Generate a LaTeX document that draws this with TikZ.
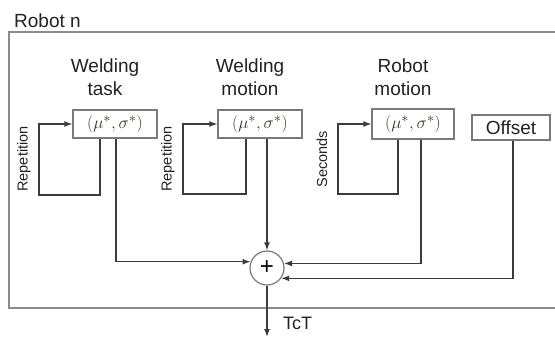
\documentclass[tikz,border=0pt]{standalone}
\usepackage{fontspec}
\setmainfont{Liberation Sans}
\usetikzlibrary{arrows.meta}
\definecolor{boxgray}{HTML}{7A7A7A}
\definecolor{framegray}{HTML}{8C8C8C}
\definecolor{linecol}{HTML}{3C3C3C}
\definecolor{txt}{HTML}{222222}
\definecolor{mathcol}{HTML}{3B3226}
\begin{document}
\begin{tikzpicture}[x=1pt,y=-1pt,
  blk/.style={draw=boxgray,line width=1.2pt,minimum width=84pt,minimum height=28pt,inner sep=0pt,
    font=\fontsize{19}{21}\selectfont,text=mathcol},
  lbl/.style={align=center,inner sep=0pt,font=\fontsize{19}{22.5}\selectfont,text=txt,anchor=south},
  conn/.style={draw=linecol,line width=1.3pt},
  arr/.style={conn,-{Latex[length=8pt,width=6pt]}},
  side/.style={rotate=90,font=\fontsize{14.5}{17}\selectfont,text=txt,inner sep=0pt},
  frame/.style={draw=framegray,line width=1.5pt}
]
\useasboundingbox (0,0) rectangle (555,338);

% outer frame (right side runs off the picture)
\draw[frame] (556,32) -- (9,32) -- (9,308) -- (556,308);
\node[anchor=base west,inner sep=0pt,font=\fontsize{19}{22}\selectfont,text=txt] (title) at (14,27) {Robot n};

% labels
\node[lbl] (lwt) at (105,95.5) {Welding\\task};
\node[lbl] (lwm) at (250,95.5) {Welding\\motion};
\node[lbl] (lrm) at (403,95.5) {Robot\\motion};

% blocks
\node[blk] (wt) at (115,124) {$(\mu^{*},\sigma^{*})$};
\node[blk] (wm) at (260,124) {$(\mu^{*},\sigma^{*})$};
\node[blk,minimum width=82pt,minimum height=30pt] (rm) at (413,124) {$(\mu^{*},\sigma^{*})$};
\node[blk,minimum width=78pt,minimum height=25pt,font=\fontsize{19}{22}\selectfont,text=txt] (off) at (511,127.5) {Offset};

% summing junction
\node[circle,draw=boxgray,line width=1.2pt,minimum size=34pt,inner sep=0pt,
  font=\fontsize{24}{24}\selectfont,text=black] (sum) at (267,268) {+};

% side labels
\node[side] (rep1) at (24,159) {Repetition};
\node[side] (rep2) at (168,159) {Repetition};
\node[side] (sec) at (322,159) {Seconds};

% feedback loops
\coordinate (l1) at (39,195);
\coordinate (l2) at (183,194);
\coordinate (l3) at (338,194);
\draw[arr] ([xshift=-15pt]wt.south) |- (l1) |- (wt.west);
\draw[arr] ([xshift=-14pt]wm.south) |- (l2) |- (wm.west);
\draw[arr] ([xshift=-15pt]rm.south) |- (l3) |- (rm.west);

% outputs into the sum
\draw[arr] ([xshift=1pt]wt.south) |- (sum.159);
\draw[arr] (sum.north |- wm.south) -- (sum.north);
\draw[arr] ([xshift=8pt]rm.south) |- (sum.15);
\draw[arr] ([xshift=2pt]off.south) |- (sum.-36);

% total output
\coordinate (out) at (267,337);
\draw[arr] (sum.south) -- (out);
\node[anchor=base west,inner sep=0pt,font=\fontsize{18}{22}\selectfont,text=txt] (tct) at (283,329.5) {TcT};
\end{tikzpicture}
\end{document}
